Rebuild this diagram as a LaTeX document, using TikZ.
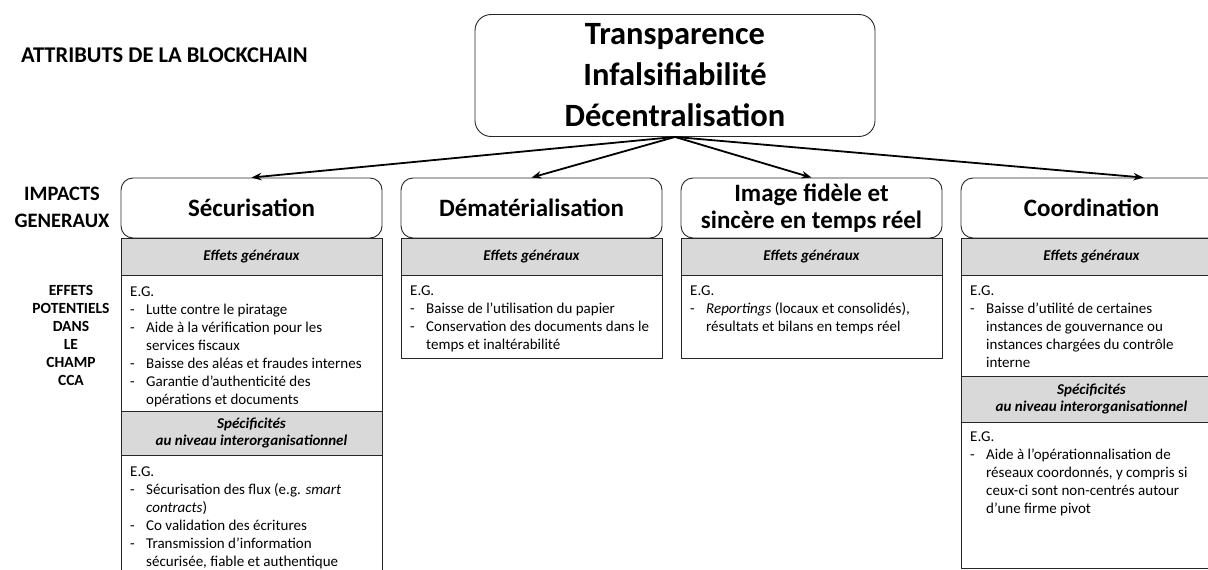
\documentclass[tikz,border=0pt]{standalone}
\usepackage{fontspec}
\setmainfont{Carlito}
\usetikzlibrary{arrows.meta,calc}
\newcommand\dl[1]{\makebox[16pt][l]{-}#1}
\newcommand\cl[1]{\hspace*{16pt}#1}
\begin{document}
\begin{tikzpicture}[x=1pt,y=-1pt,
 hdr/.style={draw=black!85,line width=0.9pt,rounded corners=12pt,fill=white,minimum width=261pt,minimum height=60pt,inner sep=0pt,align=center,font=\fontsize{25}{26.5}\selectfont\bfseries},
 band/.style={draw=black!85,line width=0.9pt,fill=black!15,minimum width=261pt,inner sep=0pt,align=center,font=\fontsize{15}{17.5}\selectfont\bfseries\itshape},
 bodybox/.style={draw=black!85,line width=0.9pt,fill=white,minimum width=261pt,inner sep=0pt},
 bodytxt/.style={anchor=north west,inner sep=0pt,align=left,font=\fontsize{15}{18}\selectfont},
 lbl/.style={inner sep=0pt,align=center},
 arr/.style={line width=1.8pt,-{Stealth[length=10pt,width=7.5pt]}}
]
\useasboundingbox (0,0) rectangle (1208,570);
\clip (0,0) rectangle (1208,570);

% left labels
\node[lbl,anchor=base west,font=\fontsize{22.5}{26}\selectfont\bfseries] (attr) at (21,62) {ATTRIBUTS DE LA BLOCKCHAIN};
\node[lbl,font=\fontsize{20.5}{27}\selectfont\bfseries] (imp) at (62,207) {IMPACTS\\GENERAUX};
\node[lbl,font=\fontsize{15.5}{18}\selectfont\bfseries] (eff) at (71,335) {EFFETS\\POTENTIELS\\DANS\\LE\\CHAMP\\CCA};

% top box
\node[draw=black!85,line width=0.9pt,rounded corners=16pt,minimum width=400pt,minimum height=122pt,inner sep=0pt,align=center,font=\fontsize{32.5}{41}\selectfont\bfseries] (top) at (675,75.5) {Transparence\\Infalsifiabilité\\Décentralisation};

% column 1
\node[bodybox,minimum height=136pt] (b1a) at (251.5,343) {};
\node[bodybox,minimum height=145pt] (b1b) at (251.5,527.5) {};
\node[band,minimum height=44pt] (s1) at (251.5,433) {Spécificités\\au niveau interorganisationnel};
\node[hdr] (h1) at (251.5,208) {Sécurisation};
\node[band,minimum height=37pt] (e1) at (251.5,256.5) {Effets généraux};
\node[bodytxt] (t1a) at (130,283.4) {\strut E.G.\\
\dl{Lutte contre le piratage}\\
\dl{Aide à la vérification pour les}\\
\cl{services fiscaux}\\
\dl{Baisse des aléas et fraudes internes}\\
\dl{Garantie d’authenticité des}\\
\cl{opérations et documents}};
\node[bodytxt] (t1b) at (130,463.4) {\strut E.G.\\
\dl{Sécurisation des flux (e.g. \textit{smart}}\\
\cl{\textit{contracts})}\\
\dl{Co validation des écritures}\\
\dl{Transmission d’information}\\
\cl{sécurisée, fiable et authentique}};

% column 2
\node[bodybox,minimum height=83pt] (b2) at (531.5,316.5) {};
\node[hdr] (h2) at (531.5,208) {Dématérialisation};
\node[band,minimum height=37pt] (e2) at (531.5,256.5) {Effets généraux};
\node[bodytxt] (t2) at (410,282.4) {\strut E.G.\\
\dl{Baisse de l’utilisation du papier}\\
\dl{Conservation des documents dans le}\\
\cl{temps et inaltérabilité}};

% column 3
\node[bodybox,minimum height=83pt] (b3) at (811.5,316.5) {};
\node[hdr] (h3) at (811.5,208) {Image fidèle et\\sincère en temps réel};
\node[band,minimum height=37pt] (e3) at (811.5,256.5) {Effets généraux};
\node[bodytxt] (t3) at (690,282.4) {\strut E.G.\\
\dl{\textit{Reportings} (locaux et consolidés),}\\
\cl{résultats et bilans en temps réel}};

% column 4
\node[bodybox,minimum height=101pt] (b4a) at (1091.5,325.5) {};
\node[bodybox,minimum height=146pt] (b4b) at (1091.5,495) {};
\node[band,minimum height=46pt] (s4) at (1091.5,399) {Spécificités\\au niveau interorganisationnel};
\node[hdr] (h4) at (1091.5,208) {Coordination};
\node[band,minimum height=37pt] (e4) at (1091.5,256.5) {Effets généraux};
\node[bodytxt] (t4a) at (970,282.4) {\strut E.G.\\
\dl{Baisse d’utilité de certaines}\\
\cl{instances de gouvernance ou}\\
\cl{instances chargées du contrôle}\\
\cl{interne}};
\node[bodytxt] (t4b) at (970,428.4) {\strut E.G.\\
\dl{Aide à l’opérationnalisation de}\\
\cl{réseaux coordonnés, y compris si}\\
\cl{ceux-ci sont non-centrés autour}\\
\cl{d’une firme pivot}};

% arrows
\draw[arr] (top.south) -- (h1.north);
\draw[arr] (top.south) -- (h2.north);
\draw[arr] (top.south) -- (h3.north);
\draw[arr] (top.south) -- ([xshift=52pt]h4.north);
\end{tikzpicture}
\end{document}
